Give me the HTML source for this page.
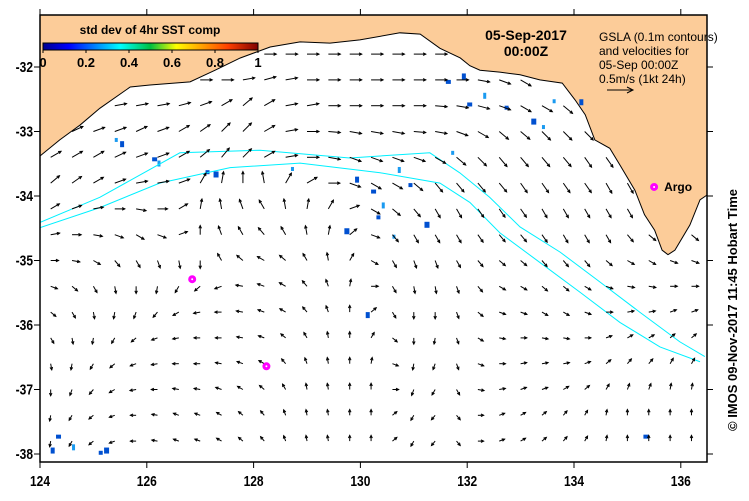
<!DOCTYPE html>
<html><head><meta charset="utf-8">
<style>
body{margin:0;background:#fff;}
svg text{font-family:"Liberation Sans",sans-serif;}
</style></head>
<body>
<svg id="map" width="749" height="496" viewBox="0 0 749 496" xmlns="http://www.w3.org/2000/svg">
<rect width="749" height="496" fill="#fff"/>
<g id="plot"></g>
</svg>
<script>
const xTicks=[124,126,128,130,132,134,136];
const yTicks=[-32,-33,-34,-35,-36,-37,-38];
const cbTicks=["0","0.2","0.4","0.6","0.8","1"];
const gridLon0=124.2, gridLat0=-31.8, gridStep=0.4;
const rowSpeed=[0.5,0.5,0.5,0.5,0.5,0.48,0.42,0.38,0.33,0.3,0.28,0.26,0.26,0.26,0.24,0.24];
const angles=[
[0,0,0,0,0,0,0,0,0,0,0,0,0,0,0,0,0,0,0,0,0,0,0,0,0,0,0,0,0,0,0],
[0,0,0,0,0,0,0,0,0,10,15,10,0,0,0,0,0,0,0,0,-10,-20,-30,-30,-30,-40,-40,-40,-40,-40,-40],
[10,10,15,10,10,10,15,20,30,40,30,10,10,0,0,0,0,0,-5,-10,-15,-20,-30,-30,-40,-40,-40,-45,-45,-45,-45],
[20,25,20,20,25,20,30,35,45,45,30,10,0,-5,-10,-10,-10,-5,-10,-20,-30,-40,-40,-45,-45,-45,-50,-50,-50,-50,-50],
[30,30,30,25,20,20,30,40,50,45,30,10,0,-10,-20,-20,-20,-20,-30,-40,-45,-50,-50,-50,-50,-55,-55,-55,-60,-60,-60],
[40,35,30,20,10,10,20,60,80,90,100,60,30,0,-20,-30,-30,-40,-50,-50,-50,-50,-55,-55,-55,-55,-60,-60,-60,-60,-60],
[30,20,10,0,-10,0,30,80,100,110,120,100,80,60,20,-30,-40,-50,-60,-60,-55,-55,-55,-60,-60,-60,-60,-60,-60,-60,-60],
[10,0,-10,-20,-30,-20,20,90,110,120,130,120,100,80,40,-20,-50,-60,-60,-60,-55,-50,-50,-55,-60,-60,-60,-50,-40,-40,-40],
[0,-10,-30,-50,-60,-70,-80,-90,120,140,150,140,120,100,60,-30,-60,-70,-70,-60,-50,-40,-40,-50,-50,-50,-40,-30,-30,-20,-20],
[-20,-40,-60,-80,-90,-100,-120,-140,-160,170,160,150,130,110,80,0,-60,-80,-80,-70,-50,-30,-30,-40,-40,-30,-20,-10,-10,0,0],
[-40,-60,-80,-100,-110,-130,-150,-170,180,170,160,150,130,110,90,40,-60,-90,-90,-70,-40,-20,-20,-30,-30,-20,0,10,10,20,20],
[-60,-80,-100,-120,-140,-160,-170,180,180,170,160,140,120,100,90,60,-40,-90,-100,-70,-30,-10,0,-10,-10,0,20,30,30,40,40],
[-80,-100,-120,-140,-160,-170,180,180,170,160,150,130,110,100,90,80,-20,-100,-110,-70,-20,0,10,10,10,20,40,50,50,60,60],
[-90,-110,-130,-150,-170,180,170,170,160,150,140,120,100,100,90,90,0,-110,-120,-60,-10,10,20,20,30,40,60,70,70,80,80],
[-100,-120,-140,-160,-180,170,160,160,150,140,130,110,100,100,90,90,40,-120,-130,-50,0,20,30,40,50,60,80,90,90,90,90],
[-100,-120,-140,-160,-180,170,160,160,150,140,130,110,100,100,90,90,40,-120,-130,-50,0,20,30,40,50,60,80,90,90,90,90]
];
const coastLon=[124,124.37,124.75,125.12,125.69,126.06,126.81,127.28,127.75,128.31,128.87,129.43,129.99,130.74,131.12,131.49,131.87,132.05,132.24,132.61,132.99,133.36,133.78,134.02,134.21,134.39,134.67,134.86,135.14,135.32,135.51,135.65,135.76,135.89,136.17,136.36,136.5];
const coastLat=[-33.38,-33.13,-32.90,-32.64,-32.31,-32.28,-32.23,-32.05,-31.86,-31.69,-31.61,-31.63,-31.58,-31.47,-31.49,-31.71,-31.86,-31.98,-32.05,-32.08,-32.12,-32.20,-32.25,-32.51,-32.74,-33.13,-33.26,-33.52,-33.91,-34.29,-34.53,-34.84,-34.91,-34.84,-34.45,-34.06,-33.98];
const c1Lon=[124,125.12,126.62,128.12,129.80,131.30,131.86,132.42,132.99,133.74,134.48,135.23,135.98,136.45];
const c1Lat=[-34.41,-34.02,-33.33,-33.29,-33.41,-33.33,-33.64,-34.02,-34.48,-34.87,-35.33,-35.80,-36.26,-36.49];
const c2Lon=[124,125.12,126.24,127.56,128.87,130.37,131.49,132.05,132.61,133.36,134.11,134.86,135.61,136.36];
const c2Lat=[-34.49,-34.18,-33.80,-33.56,-33.49,-33.64,-33.80,-34.10,-34.57,-35.03,-35.49,-35.96,-36.34,-36.57];
const argoLon=[126.85,128.24,135.5];
const argoLat=[-35.29,-36.64,-33.86];
const speckLon=[125.4,125.5,126.1,126.2,127.1,127.25,128.7,129.9,130.2,130.4,130.9,131.2,130.6,130.1,131.6,132.3,132.7,133.2,133.6,124.2,124.3,124.6,125.1,125.2,133.4,131.9,132.0,130.7,130.3,129.7,131.7,134.1,135.3];
const speckLat=[-33.1,-33.15,-33.4,-33.45,-33.6,-33.62,-33.55,-33.7,-33.9,-34.1,-33.8,-34.4,-34.6,-35.8,-32.2,-32.4,-32.6,-32.8,-32.5,-37.9,-37.7,-37.85,-37.95,-37.9,-32.9,-32.1,-32.55,-33.55,-34.3,-34.5,-33.3,-32.5,-37.7];

const NS='http://www.w3.org/2000/svg';
const X0=40,X1=707,Y0=15,Y1=462;
const sx=lon=>40+(lon-124)*53.4;
const sy=lat=>67+(-32-lat)*64.5;
const g=document.getElementById('plot');
function mk(tag,attrs,parent){const e=document.createElementNS(NS,tag);for(const k in attrs)e.setAttribute(k,attrs[k]);(parent||g).appendChild(e);return e;}

const defs=mk('defs',{});
const cp=mk('clipPath',{id:'clip'},defs);mk('rect',{x:X0,y:Y0,width:X1-X0,height:Y1-Y0},cp);
const cg=mk('g',{'clip-path':'url(#clip)'});



let pts=[[X0,Y0]];for(let i=0;i<coastLon.length;i++)pts.push([sx(coastLon[i]),sy(coastLat[i])]);pts.push([X1,Y0]);
const land=mk('polygon',{points:pts.map(p=>p.join(',')).join(' '),fill:'#fccc99',stroke:'#000','stroke-width':1},cg);


function inPoly(x,y){let c=false;for(let i=0,j=pts.length-1;i<pts.length;j=i++){const[xi,yi]=pts[i],[xj,yj]=pts[j];if(((yi>y)!=(yj>y))&&(x<(xj-xi)*(y-yi)/(yj-yi)+xi))c=!c;}return c;}

speckLon.forEach((lo,i)=>{const r=mk('rect',{x:sx(lo),y:sy(speckLat[i]),width:3+(i%3),height:4+(i%2)*2,fill:i%3?'#0050d0':'#1a9af0'},cg);

});

[[c1Lon,c1Lat],[c2Lon,c2Lat]].forEach(([lo,la])=>{const p=mk('polyline',{points:lo.map((v,i)=>sx(v)+','+sy(la[i])).join(' '),fill:'none',stroke:'#00f0ff','stroke-width':1},cg);

});

angles.forEach((row,r)=>{row.forEach((a,c)=>{const x=sx(gridLon0+c*gridStep),y=sy(gridLat0-r*gridStep);
if(inPoly(x,y)||x>X1-3)return;const L=rowSpeed[r]*24,t=a*Math.PI/180;const x2=x+L*Math.cos(t),y2=y-L*Math.sin(t);
const ar=mk('g',{},cg);


mk('line',{x1:x,y1:y,x2:x2,y2:y2,stroke:'#000','stroke-width':1},ar);
const h1=t+Math.PI-0.45,h2=t+Math.PI+0.45;
mk('polyline',{points:`${x2+3*Math.cos(h1)},${y2-3*Math.sin(h1)} ${x2},${y2} ${x2+3*Math.cos(h2)},${y2-3*Math.sin(h2)}`,fill:'none',stroke:'#000','stroke-width':1},ar);});});

argoLon.forEach((lo,i)=>{const c=mk('circle',{cx:sx(lo),cy:sy(argoLat[i]),r:2.5,fill:'#fff',stroke:'#ff00ff','stroke-width':3});

});
const at=mk('text',{x:sx(argoLon[2])+10,y:sy(argoLat[2])+4,'font-size':12,'font-weight':'bold'});at.textContent='Argo';



const fr=mk('rect',{x:X0,y:Y0,width:X1-X0,height:Y1-Y0,fill:'none',stroke:'#000','stroke-width':1.5});


xTicks.forEach(v=>{const x=sx(v);mk('line',{x1:x,y1:Y1,x2:x,y2:Y1+6,stroke:'#000'});mk('line',{x1:x,y1:Y0,x2:x,y2:Y0-6,stroke:'#000'});
const t=mk('text',{x:x,y:Y1+24,'font-size':15,'font-weight':'bold','text-anchor':'middle',transform:`translate(${x},0) scale(0.8,1) translate(${-x},0)`});t.textContent=v;

});
yTicks.forEach(v=>{const y=sy(v);mk('line',{x1:X0-6,y1:y,x2:X0,y2:y,stroke:'#000'});mk('line',{x1:X1,y1:y,x2:X1+6,y2:y,stroke:'#000'});
const t=mk('text',{x:X0-7,y:y+5,'font-size':15,'font-weight':'bold','text-anchor':'end',transform:`translate(${X0-7},0) scale(0.8,1) translate(${-(X0-7)},0)`});t.textContent=v;

});

const lg=mk('linearGradient',{id:'jet'},defs);
[['0','#00008f'],['0.12','#0000ff'],['0.36','#00ffff'],['0.5','#00c040'],['0.62','#ffff00'],['0.86','#ff4000'],['1','#800000']].forEach(([o,c])=>mk('stop',{offset:o,'stop-color':c},lg));
const cb=mk('rect',{x:43,y:43,width:215,height:7,fill:'url(#jet)',stroke:'#000'});


const ct=mk('text',{x:150,y:34,'font-size':12,'font-weight':'bold','text-anchor':'middle'});ct.textContent='std dev of 4hr SST comp';


cbTicks.forEach((s,i)=>{const x=43+i*43;mk('line',{x1:x,y1:50,x2:x,y2:53,stroke:'#000'});
const t=mk('text',{x:x,y:67,'font-size':13,'font-weight':'bold','text-anchor':'middle'});t.textContent=s;

});

[['05-Sep-2017',526,40],['00:00Z',526,56]].forEach(([s,x,y])=>{const t=mk('text',{x:x,y:y,'font-size':14,'font-weight':'bold','text-anchor':'middle'});t.textContent=s;

});
['GSLA (0.1m contours)','and velocities for','05-Sep 00:00Z','0.5m/s (1kt 24h)'].forEach((s,i)=>{const t=mk('text',{x:599,y:41+i*14,'font-size':12});t.textContent=s;

});
const la=mk('g',{});
mk('line',{x1:607,y1:90,x2:633,y2:90,stroke:'#000'},la);mk('polyline',{points:'627,87 633,90 627,93',fill:'none',stroke:'#000'},la);

const cr=mk('text',{x:0,y:0,'font-size':13,'font-weight':'bold','text-anchor':'middle',transform:'translate(737,310) rotate(-90)'});cr.textContent='© IMOS 09-Nov-2017 11:45 Hobart Time';


</script>
</body></html>
